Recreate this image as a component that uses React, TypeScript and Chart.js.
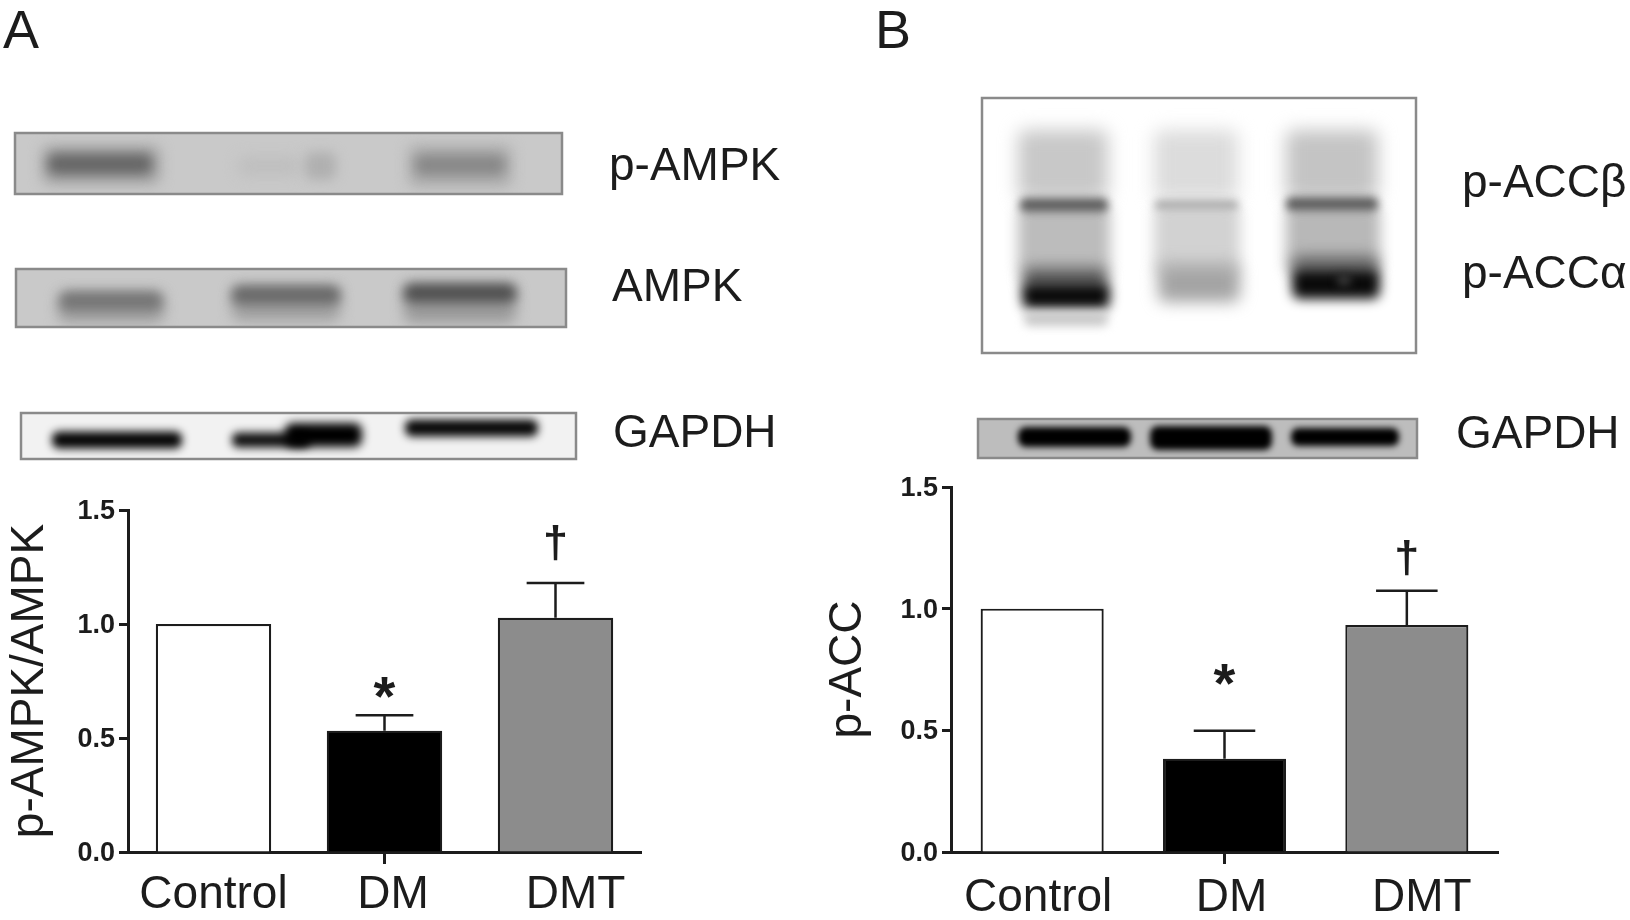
import React, { useEffect, useRef } from "react";
import { Chart, registerables } from "chart.js";

Chart.register(...registerables);

// ---- data ----
const categories = ["Control", "DM", "DMT"];
const valuesA = [1.0, 0.532, 1.027];
const errorTopA = [null, 0.6, 1.18];
const valuesB = [1.0, 0.383, 0.933];
const errorTopB = [null, 0.498, 1.074];
const markA = [null, { text: "*", y: 0.72 }, { text: "†", y: 1.355 }];
const markB = [null, { text: "*", y: 0.73 }, { text: "†", y: 1.207 }];
const yTicksMax = 1.5;
const barFill = ["#ffffff", "#000000", "#8c8c8c"];

const FONT = '"Liberation Sans", Arial, sans-serif';
const INK = "#1c1c1c";

type Band = [number, number, number, number, string, number?];
type Blot = { box: [number, number, number, number]; fill: string; bands: Band[] };

// Western-blot strips are pictures in the reference; they are painted as blurred bands
// [x0, x1, yCentre, height, colour, blur]
const blotsA: Blot[] = [
  {
    box: [15, 133, 562, 194],
    fill: "#c9c9c9",
    bands: [
      [42, 160, 165, 38, "#a2a2a2", 7],
      [48, 152, 164, 20, "#666666", 6],
      [238, 300, 166, 20, "#bfbfbf", 7],
      [305, 336, 166, 28, "#b0b0b0", 6],
      [408, 512, 166, 42, "#adadad", 7],
      [415, 505, 165, 20, "#888888", 6],
    ],
  },
  {
    box: [16, 269, 566, 327],
    fill: "#c9c9c9",
    bands: [
      [58, 164, 308, 30, "#a0a0a0", 7],
      [60, 162, 301, 18, "#747474", 6],
      [232, 340, 304, 34, "#a0a0a0", 7],
      [232, 340, 295, 18, "#686868", 6],
      [404, 516, 304, 38, "#9a9a9a", 7],
      [404, 516, 293, 18, "#4e4e4e", 6],
    ],
  },
  {
    box: [21, 413, 576, 459],
    fill: "#f2f2f2",
    bands: [
      [52, 182, 440, 17, "#050505", 4],
      [232, 310, 440, 15, "#101010", 4],
      [285, 362, 435, 24, "#000000", 5],
      [405, 538, 428, 17, "#080808", 4],
    ],
  },
];

const blotsB: Blot[] = [
  {
    box: [982, 98, 1416, 353],
    fill: "#ffffff",
    bands: [
      [1018, 1108, 165, 70, "#c8c8c8", 9],
      [1154, 1238, 165, 70, "#dcdcdc", 9],
      [1286, 1378, 165, 70, "#c4c4c4", 9],
      [1018, 1110, 240, 70, "#bcbcbc", 7],
      [1154, 1240, 240, 70, "#d2d2d2", 7],
      [1286, 1380, 240, 70, "#b8b8b8", 7],
      [1020, 1108, 205, 14, "#5f5f5f", 4],
      [1155, 1238, 205, 9, "#a8a8a8", 4],
      [1286, 1378, 204, 14, "#5f5f5f", 4],
      [1022, 1108, 278, 22, "#606060", 7],
      [1022, 1110, 296, 26, "#0a0a0a", 6],
      [1158, 1240, 283, 38, "#a4a4a4", 8],
      [1292, 1378, 264, 18, "#707070", 7],
      [1292, 1380, 284, 30, "#0a0a0a", 6],
      [1337, 1351, 280, 12, "#383838", 4],
      [1024, 1108, 319, 14, "#c8c8c8", 5],
    ],
  },
  {
    box: [978, 419, 1417, 458],
    fill: "#bdbdbd",
    bands: [
      [1018, 1131, 437, 20, "#000000", 3],
      [1150, 1272, 438, 24, "#000000", 3],
      [1291, 1399, 437, 18, "#000000", 3],
    ],
  },
];

type Note = [string, number, number];
const notesA: Note[] = [
  ["A", 3, 48],
  ["p-AMPK", 609, 180],
  ["AMPK", 612, 301],
  ["GAPDH", 613, 447],
];
const notesB: Note[] = [
  ["B", 875, 48],
  ["p-ACCβ", 1462, 197],
  ["p-ACCα", 1462, 288],
  ["GAPDH", 1456, 448],
];

type Panel = {
  originX: number;
  width: number;
  yTitle: string;
  titleShift: number;
  values: number[];
  errorTop: (number | null)[];
  marks: ({ text: string; y: number } | null)[];
  blots: Blot[];
  notes: Note[];
  labelShift: number[];
  labelBaseline: number;
  area: { left: number; right: number; top: number; bottom: number };
};

const panels: Panel[] = [
  {
    originX: 0,
    width: 815,
    yTitle: "p-AMPK/AMPK",
    titleShift: 3,
    values: valuesA,
    errorTop: errorTopA,
    marks: markA,
    blots: blotsA,
    notes: notesA,
    labelShift: [0, 8.5, 20],
    labelBaseline: 908,
    area: { left: 128, right: 641, top: 510, bottom: 852 },
  },
  {
    originX: 815,
    width: 815,
    yTitle: "p-ACC",
    titleShift: 6,
    values: valuesB,
    errorTop: errorTopB,
    marks: markB,
    blots: blotsB,
    notes: notesB,
    labelShift: [-4, 7, 15],
    labelBaseline: 911,
    area: { left: 951, right: 1498, top: 487, bottom: 852 },
  },
];

function paintBlot(ctx: CanvasRenderingContext2D, b: Blot) {
  const [x0, y0, x1, y1] = b.box;
  ctx.save();
  ctx.beginPath();
  ctx.rect(x0, y0, x1 - x0, y1 - y0);
  ctx.clip();
  ctx.fillStyle = b.fill;
  ctx.fillRect(x0, y0, x1 - x0, y1 - y0);
  for (const [bx0, bx1, yc, h, color, blur] of b.bands) {
    ctx.filter = `blur(${blur ?? 4}px)`;
    ctx.fillStyle = color;
    ctx.beginPath();
    ctx.roundRect(bx0, yc - h / 2, bx1 - bx0, h, Math.min(h / 2.5, 8));
    ctx.fill();
  }
  ctx.filter = "none";
  ctx.restore();
  ctx.strokeStyle = "#8a8a8a";
  ctx.lineWidth = 2.5;
  ctx.strokeRect(x0, y0, x1 - x0, y1 - y0);
}

function makePlugin(p: Panel) {
  return {
    id: "panelExtras",
    beforeDraw(chart: any) {
      const ctx: CanvasRenderingContext2D = chart.ctx;
      ctx.save();
      ctx.translate(-p.originX, 0);
      p.blots.forEach((b) => paintBlot(ctx, b));
      ctx.fillStyle = INK;
      ctx.textBaseline = "alphabetic";
      ctx.textAlign = "left";
      p.notes.forEach(([text, x, y], i) => {
        ctx.font = `${i === 0 ? 54 : 46}px ${FONT}`;
        ctx.fillText(text, x, y);
      });
      ctx.restore();
    },
    afterDatasetsDraw(chart: any) {
      const ctx: CanvasRenderingContext2D = chart.ctx;
      const xs = chart.scales.x;
      const ys = chart.scales.y;
      const bars = chart.getDatasetMeta(0).data;
      ctx.save();
      ctx.strokeStyle = INK;
      ctx.lineWidth = 2.5;
      p.errorTop.forEach((top, i) => {
        if (top == null) return;
        const cx = xs.getPixelForValue(i);
        const half = bars[i].width * 0.25;
        const yTop = ys.getPixelForValue(top);
        const yBar = ys.getPixelForValue(p.values[i]);
        ctx.beginPath();
        ctx.moveTo(cx, yBar);
        ctx.lineTo(cx, yTop);
        ctx.moveTo(cx - half, yTop);
        ctx.lineTo(cx + half, yTop);
        ctx.stroke();
      });
      ctx.fillStyle = INK;
      ctx.textAlign = "center";
      ctx.textBaseline = "alphabetic";
      p.marks.forEach((m, i) => {
        if (!m) return;
        const cx = xs.getPixelForValue(i);
        const cy = ys.getPixelForValue(m.y);
        ctx.font = m.text === "*" ? `bold 56px ${FONT}` : `bold 45px ${FONT}`;
        const tm = ctx.measureText(m.text);
        ctx.fillText(m.text, cx, cy + (tm.actualBoundingBoxAscent - tm.actualBoundingBoxDescent) / 2);
      });
      ctx.font = `46px ${FONT}`;
      categories.forEach((c, i) => {
        ctx.fillText(c, xs.getPixelForValue(i) + p.labelShift[i], p.labelBaseline);
      });
      ctx.restore();
    },
  };
}

function PanelChart({ panel }: { panel: Panel }) {
  const ref = useRef<HTMLCanvasElement | null>(null);
  useEffect(() => {
    const { area, originX, width } = panel;
    const chart = new Chart(ref.current as HTMLCanvasElement, {
      type: "bar",
      data: {
        labels: categories,
        datasets: [
          {
            data: panel.values,
            backgroundColor: barFill,
            borderColor: INK,
            borderWidth: 2.2,
            borderSkipped: "bottom",
            categoryPercentage: 1,
            barPercentage: 0.675,
          },
        ],
      },
      options: {
        animation: false,
        responsive: false,
        devicePixelRatio: 1,
        layout: {
          padding: {
            left: 0,
            top: area.top,
            right: originX + width - area.right,
            bottom: 920 - area.bottom - 20,
          },
        },
        plugins: { legend: { display: false }, title: { display: false }, tooltip: { enabled: false } },
        scales: {
          x: {
            offset: true,
            z: 1,
            afterFit: (s: any) => {
              s.height = 20;
            },
            border: { display: true, color: INK, width: 3 },
            grid: {
              offset: false,
              drawOnChartArea: false,
              drawTicks: true,
              tickLength: 12,
              tickWidth: 3,
              tickColor: (c: any) => (c.index === 1 ? INK : "rgba(0,0,0,0)"),
            },
            ticks: { display: false },
          },
          y: {
            min: 0,
            max: yTicksMax,
            afterFit: (s: any) => {
              s.width = area.left - originX;
            },
            border: { display: true, color: INK, width: 3 },
            grid: { drawOnChartArea: false, tickLength: 9, tickWidth: 3, tickColor: INK },
            ticks: {
              stepSize: 0.5,
              padding: 4,
              labelOffset: 1.5,
              color: INK,
              font: { family: FONT, size: 27, weight: "bold" },
              callback: (v: any) => Number(v).toFixed(1),
            },
            title: {
              display: true,
              text: panel.yTitle,
              color: INK,
              padding: { top: panel.titleShift, bottom: 0 },
              font: { family: FONT, size: 46, weight: "normal" },
            },
          },
        },
      },
      plugins: [makePlugin(panel)],
    } as any);
    return () => chart.destroy();
  }, [panel]);
  return (
    <canvas
      ref={ref}
      width={panel.width}
      height={920}
      style={{
        position: "absolute",
        left: panel.originX,
        top: 0,
        width: panel.width,
        height: 920,
        display: "block",
        filter: "blur(0.5px)",
      }}
    />
  );
}

export default function App() {
  return (
    <div style={{ position: "absolute", left: 0, top: 0, width: 1630, height: 920, background: "#fff", overflow: "hidden" }}>
      {panels.map((p) => (
        <PanelChart key={p.yTitle} panel={p} />
      ))}
    </div>
  );
}
